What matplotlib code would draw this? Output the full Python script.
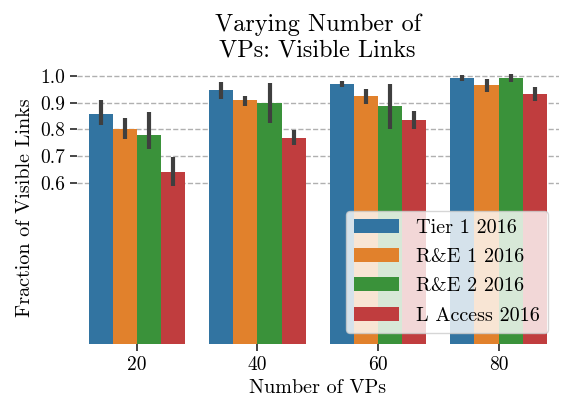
import numpy as np
import matplotlib
matplotlib.use("Agg")
import matplotlib.pyplot as plt

plt.rcParams['font.family'] = ['cmr10', 'DejaVu Serif']
plt.rcParams['mathtext.fontset'] = 'cm'
plt.rcParams['axes.formatter.use_mathtext'] = True
plt.rcParams['axes.unicode_minus'] = False

# === DADOS === #
vps = ['20', '40', '60', '80']
series = ['Tier 1 2016', 'R&E 1 2016', 'R&E 2 2016', 'L Access 2016']
colors = ['#3274a1', '#e1812c', '#3a923a', '#c03d3e']

mean_vals = [
    [0.858, 0.947, 0.969, 0.991],
    [0.802, 0.910, 0.925, 0.965],
    [0.779, 0.900, 0.887, 0.991],
    [0.642, 0.768, 0.835, 0.932],
]
ci_low = [
    [0.816, 0.915, 0.959, 0.979],
    [0.765, 0.889, 0.896, 0.938],
    [0.726, 0.823, 0.803, 0.975],
    [0.590, 0.741, 0.801, 0.907],
]
ci_high = [
    [0.910, 0.977, 0.981, 1.004],
    [0.842, 0.926, 0.951, 0.989],
    [0.866, 0.972, 0.969, 1.007],
    [0.697, 0.798, 0.868, 0.957],
]
yticks = [0.6, 0.7, 0.8, 0.9, 1.0]

# === PLOT === #
fig = plt.figure(figsize=(5.72, 4), dpi=100)
ax = fig.add_axes([0.134, 0.14, 0.843, 0.684])

x = np.arange(len(vps))
width = 0.8 / len(series)
for i, (nome, cor) in enumerate(zip(series, colors)):
    pos = x - 0.4 + width * (i + 0.5)
    ax.bar(pos, mean_vals[i], width, color=cor, label=nome, zorder=2)
    ax.vlines(pos, ci_low[i], ci_high[i], color='#3f3f3f', linewidth=3.0, zorder=3)

ax.set_xlim(-0.5, len(vps) - 0.5)
ax.set_ylim(0, 1.02)
ax.set_xticks(x)
ax.set_xticklabels(vps)
ax.set_yticks(yticks)
ax.set_yticklabels([f'{v:.1f}' for v in yticks])
for v in yticks:
    ax.axhline(v, color='#b0b0b0', linestyle='--', linewidth=1.0, zorder=1)

for s in ax.spines.values():
    s.set_visible(False)
ax.tick_params(axis='both', labelsize=14, length=5, width=1.2, color='#262626')

ax.set_xlabel('Number of VPs', fontsize=14.5)
ax.set_ylabel('Fraction of Visible Links', fontsize=14.5)
ax.set_title('Varying Number of\nVPs: Visible Links', fontsize=17.5, linespacing=1.2, pad=10)

leg = ax.legend(loc='lower right', fontsize=14.5, framealpha=0.8, edgecolor='#cccccc',
                handlelength=2.2, handletextpad=0.85, labelspacing=0.56,
                borderaxespad=0.55)

fig.savefig('out.png', dpi=100)
